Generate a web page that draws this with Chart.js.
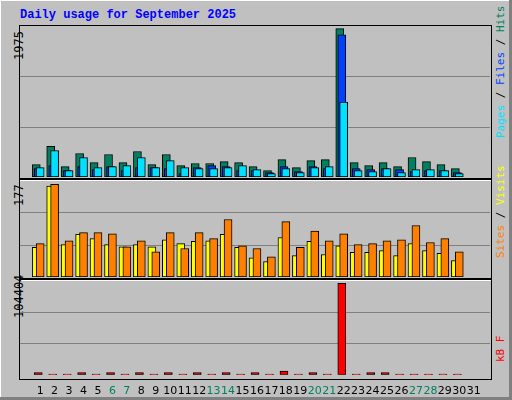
<!DOCTYPE html>
<html><head><meta charset="utf-8">
<script src="https://cdn.jsdelivr.net/npm/chart.js@4"></script>
<style>
html,body{margin:0;padding:0}
body{width:512px;height:400px;background:#C0C0C0;position:relative;overflow:hidden;font-family:"DejaVu Sans Mono",monospace}
#frame{position:absolute;left:0;top:0;width:509px;height:397px;border-right:3px solid #808080;border-bottom:3px solid #808080;box-shadow:inset 1px 1px 0 #fff}
.title{position:absolute;left:20px;top:8px;font:bold 12px "Liberation Mono",monospace;color:#0000FF}
.box{position:absolute;border:1px solid #000;background:#C0C0C0}
.vl{position:absolute;transform-origin:0 0;transform:rotate(-90deg);white-space:nowrap;font:11px "DejaVu Sans Mono",monospace}
.hl{position:absolute;left:491px;width:1px;background:#fff}
canvas{position:absolute}
</style></head><body>
<div id="frame"></div>
<div class="title">Daily usage for September 2025</div>
<div class="box" style="left:19px;top:25px;width:471px;height:353px"></div>
<div style="position:absolute;left:20px;top:178px;width:471px;height:2px;background:#000;border-bottom:1px solid #fff"></div>
<div style="position:absolute;left:20px;top:278px;width:471px;height:2px;background:#000;border-bottom:1px solid #fff"></div>
<div class="vl" style="left:12px;top:60px;font-size:12px">1975</div>
<div class="vl" style="left:12px;top:206px;font-size:12px">177</div>
<div class="vl" style="left:12px;top:318px;font-size:12px">104404</div>
<div class="vl" style="left:494px;top:138px"><span style="color:#00E0FF">Pages</span> / <span style="color:#0040FF">Files</span> / <span style="color:#008060">Hits</span></div>
<div class="vl" style="left:494px;top:258px"><span style="color:#FF8000">Sites</span> / <span style="color:#FFFF00">Visits</span></div>
<div class="vl" style="left:494px;top:362px"><span style="color:#FF0000">kB F</span></div>
<canvas id="c1" style="left:20px;top:26px;width:470px;height:151px"></canvas>
<canvas id="c2" style="left:20px;top:180px;width:470px;height:97px"></canvas>
<canvas id="c3" style="left:20px;top:280px;width:470px;height:120px"></canvas>
<script>
const days=[1,2,3,4,5,6,7,8,9,10,11,12,13,14,15,16,17,18,19,20,21,22,23,24,25,26,27,28,29,30,31];
const weekend=[6,7,13,14,20,21,27,28];
const hits=[162,400,136,307,189,294,189,334,162,294,149,176,176,202,189,136,83,228,123,215,228,1940,189,149,189,136,255,202,162,110];
const files=[110,149,83,136,97,136,83,123,123,110,44,123,149,136,83,83,57,136,70,136,110,1861,110,97,110,97,70,83,83,57];
const pages=[123,347,83,255,123,136,149,255,123,215,123,110,110,123,149,97,44,110,57,123,136,979,83,70,110,57,97,97,83,44];
const sites=[54,166,59,78,70,59,55,59,55,68,61,65,66,78,54,35,28,72,39,65,41,57,45,45,48,39,61,48,43,30];
const visits=[61,169,66,81,81,79,55,66,46,81,52,81,70,105,57,52,37,101,54,84,66,79,59,61,66,68,94,63,70,46];
const kbytes=[2500,800,800,2500,800,2500,800,2500,800,2500,800,2500,800,2500,800,2500,800,4000,800,2500,800,100700,800,2500,2500,800,800,800,800,800];
const maxTop=1975,maxMid=177,maxBot=104404;

const pts=(arr,off)=>arr.map((v,i)=>({x:days[i]+off,y:v}));
const gridPlugin={id:'g',beforeDatasetsDraw(ch){const y=ch.scales.y,ctx=ch.ctx,a=ch.chartArea;ctx.save();ctx.strokeStyle='#808080';ctx.lineWidth=1;
 [1,2].forEach(k=>{const p=Math.round(y.getPixelForValue(y.max*k/3))+0.5;ctx.beginPath();ctx.moveTo(a.left,p);ctx.lineTo(a.right,p);ctx.stroke();});ctx.restore();}};
function ds(data,color,order){return {data,backgroundColor:color,borderColor:'#000',borderWidth:1,barThickness:8,grouped:false,order,borderSkipped:false};}
function make(id,sets,max,showX){
 return new Chart(document.getElementById(id),{type:'bar',data:{datasets:sets},plugins:[gridPlugin],
 options:{responsive:false,animation:false,maintainAspectRatio:false,layout:{padding:0},
 plugins:{legend:{display:false},tooltip:{enabled:false}},
 scales:{x:{type:'linear',min:0.13,max:31.6,display:showX,grid:{display:false},border:{display:false},
   afterBuildTicks:s=>{s.ticks=days.map(d=>({value:d}));},
   ticks:{autoSkip:false,maxRotation:0,padding:2,font:{family:'DejaVu Sans',size:11},
     color:c=>weekend.includes(c.tick.value)?'#008060':'#000',callback:v=>String(v)}},
  y:{display:false,min:0,max:max}}}});
}
function sz(id,w,h){const c=document.getElementById(id);c.width=w;c.height=h;}
sz('c1',470,151);sz('c2',470,97);sz('c3',470,120);
make('c1',[ds(pts(hits,-0.27),'#008060',3),ds(pts(files,-0.13),'#0040FF',2),ds(pts(pages,0),'#00E0FF',1)],maxTop,false);
make('c2',[ds(pts(sites,-0.27),'#FFFF00',2),ds(pts(visits,0),'#FF8000',1)],maxMid,false);
make('c3',[ds(pts(kbytes,-0.13),'#FF0000',1)],maxBot,true);
</script></body></html>
